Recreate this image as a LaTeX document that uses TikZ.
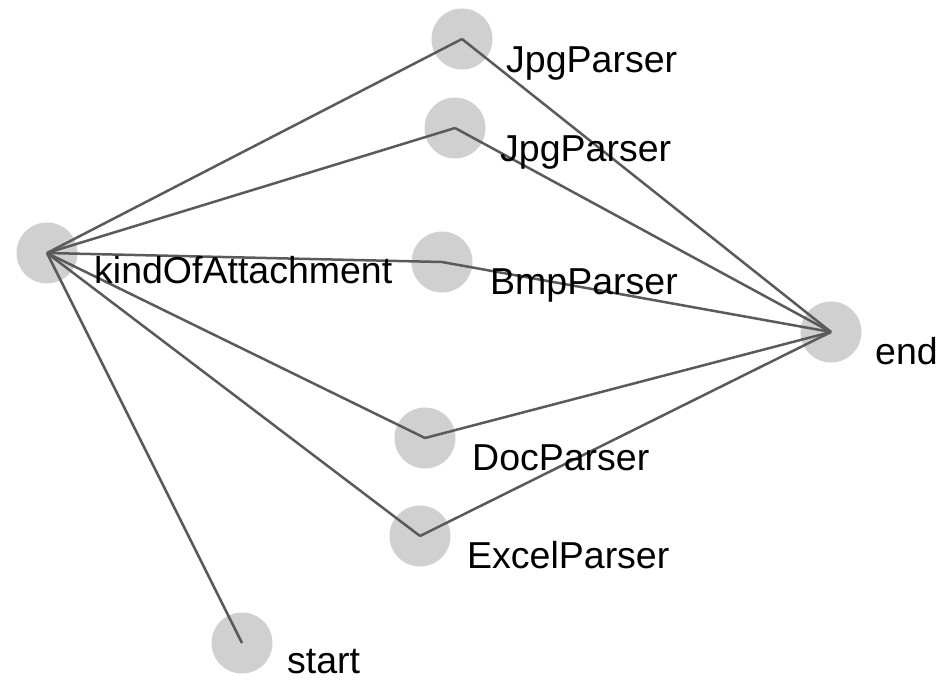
\documentclass[tikz,border=0pt]{standalone}
\usepackage{fontspec}
\setmainfont{Liberation Sans}
\definecolor{dotgray}{HTML}{D0D0D0}
\definecolor{edgegray}{HTML}{5A5A5A}
\tikzset{
  vertex/.style={circle, fill=dotgray, minimum size=61pt, inner sep=0pt},
  link/.style={draw=edgegray, line width=2.5pt, line join=round},
  lbl/.style={anchor=base west, inner sep=0pt, text=black,
              font=\fontsize{37.5}{45}\selectfont},
}
\begin{document}
\begin{tikzpicture}[x=1pt,y=-1pt]
  \useasboundingbox (0,0) rectangle (940,683);

  % vertices
  \node[vertex] (kind)  at (47,253)  {};
  \node[vertex] (jpga)  at (462,39)  {};
  \node[vertex] (jpgb)  at (455,128) {};
  \node[vertex] (bmp)   at (442,262) {};
  \node[vertex] (stop)  at (831,332) {};
  \node[vertex] (doc)   at (425,438) {};
  \node[vertex] (excel) at (420,536) {};
  \node[vertex] (begin) at (242,643) {};

  % edges
  \foreach \t in {jpga,jpgb,bmp,doc,excel,begin}
    \draw[link] (kind.center) -- (\t.center);
  \foreach \s in {jpga,jpgb,bmp,doc,excel}
    \draw[link] (\s.center) -- (stop.center);

  % labels
  \node[lbl] (lkind)  at (94,283)  {kindOfAttachment};
  \node[lbl] (ljpga)  at (506,72)  {JpgParser};
  \node[lbl] (ljpgb)  at (500,161) {JpgParser};
  \node[lbl] (lbmp)   at (490,294) {BmpParser};
  \node[lbl] (lstop)  at (875,364) {end};
  \node[lbl] (ldoc)   at (472,470) {DocParser};
  \node[lbl] (lexcel) at (467,568) {ExcelParser};
  \node[lbl] (lbegin) at (287,673) {start};
\end{tikzpicture}
\end{document}
